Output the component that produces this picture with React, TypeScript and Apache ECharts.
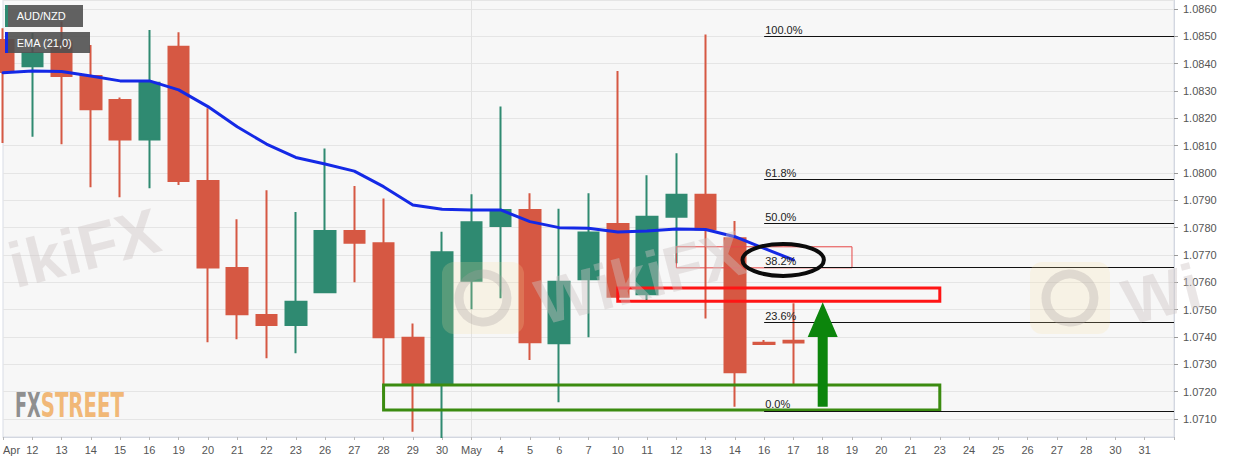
import React, { useEffect, useRef } from "react";
import * as echarts from "echarts";

const dates = [
  "2021-04-09", "2021-04-12", "2021-04-13", "2021-04-14", "2021-04-15", "2021-04-16",
  "2021-04-19", "2021-04-20", "2021-04-21", "2021-04-22", "2021-04-23",
  "2021-04-26", "2021-04-27", "2021-04-28", "2021-04-29", "2021-04-30",
  "2021-05-03", "2021-05-04", "2021-05-05", "2021-05-06", "2021-05-07",
  "2021-05-10", "2021-05-11", "2021-05-12", "2021-05-13", "2021-05-14",
  "2021-05-16", "2021-05-17", "2021-05-18", "2021-05-19", "2021-05-20", "2021-05-21",
  "2021-05-23", "2021-05-24", "2021-05-25", "2021-05-26", "2021-05-27", "2021-05-28",
  "2021-05-30", "2021-05-31", "2021-06-01",
];
const tickLabels = [
  "Apr", "12", "13", "14", "15", "16", "19", "20", "21", "22", "23", "26", "27", "28", "29", "30",
  "May", "4", "5", "6", "7", "10", "11", "12", "13", "14", "16", "17", "18", "19", "20", "21",
  "23", "24", "25", "26", "27", "28", "30", "31", "",
];

// OHLC per trading day (AUD/NZD daily)
const opens = [
  1.08487, 1.08391, 1.08479, 1.08355, 1.08267, 1.08123, 1.08462, 1.07971, 1.07652, 1.0748,
  1.07444, 1.07564, 1.07788, 1.07743, 1.07397, 1.07228, 1.07606, 1.07806, 1.07865, 1.07377,
  1.07611, 1.07813, 1.07556, 1.0784, 1.0792, 1.07761, 1.07379, 1.07386,
];
const closes = [
  1.0837, 1.08438, 1.08355, 1.08233, 1.08123, 1.0833, 1.07971, 1.07654, 1.07483, 1.07444,
  1.07529, 1.07788, 1.07745, 1.07399, 1.07228, 1.0771, 1.0782, 1.07865, 1.07381, 1.07602,
  1.07782, 1.07547, 1.0784, 1.0792, 1.07794, 1.07271, 1.07374, 1.0738,
];
const lows = [
  1.0811, 1.08133, 1.08105, 1.07948, 1.07911, 1.07944, 1.07956, 1.07381, 1.07392, 1.07322,
  1.0734, 1.07562, 1.076, 1.0719, 1.07053, 1.0703, 1.07501, 1.07542, 1.07316, 1.07161,
  1.07399, 1.0754, 1.07529, 1.0767, 1.07468, 1.07145, 1.07373, 1.07228,
];
const highs = [
  1.0853, 1.08512, 1.08554, 1.08468, 1.08276, 1.08523, 1.08515, 1.08237, 1.07831, 1.07937,
  1.07857, 1.0809, 1.07952, 1.07907, 1.07449, 1.07785, 1.07922, 1.08243, 1.07926, 1.07869,
  1.07926, 1.08373, 1.07992, 1.08072, 1.08507, 1.07824, 1.07389, 1.07523,
];
const emaValues = [
  1.08367, 1.08373, 1.08371, 1.08355, 1.08337, 1.08337, 1.08304, 1.08243, 1.08169, 1.08106,
  1.08057, 1.08033, 1.08007, 1.0795, 1.07883, 1.07867, 1.07865, 1.07865, 1.07822, 1.078,
  1.07798, 1.07784, 1.07788, 1.07795, 1.07793, 1.07767, 1.07724, 1.07682,
];

const lastPrice = 1.0738;
const fibHigh = 1.085;
const fibLow = 1.0713;
const fibRatios = [1, 0.618, 0.5, 0.382, 0.236, 0];
const fibLabels = ["100.0%", "61.8%", "50.0%", "38.2%", "23.6%", "0.0%"];
const fibStart = "2021-05-16";
const monthStart = "2021-05-03";

// annotation zones (drawn boxes)
const zoneStarts = ["2021-05-12", "2021-05-10", "2021-04-28"];
const zoneEnds = ["2021-05-19", "2021-05-23", "2021-05-23"];
const zoneTops = [1.0773, 1.07579, 1.07224];
const zoneBottoms = [1.07653, 1.07531, 1.07133];

// ellipse around the 38.2% / EMA meeting point
const ellipseDay = "2021-05-16";
const ellipseDayOffset = 0.65;
const ellipseCenter = 1.07682;
const ellipseHalfDays = 1.39;
const ellipseHalfPrice = 0.000585;

// up arrow
const arrowDay = "2021-05-18";
const arrowBase = 1.07145;
const arrowHeadBase = 1.074;
const arrowTip = 1.07527;

const yMin = 1.07034;
const yMax = 1.08633;

const UP = "#2f8a71";
const DOWN = "#d65843";
const zoneStyles = [
  { stroke: "#e64646", lineWidth: 1 },
  { stroke: "#ff1414", lineWidth: 3 },
  { stroke: "#3b8b10", lineWidth: 3 },
];

function measure(text: string, font: string) {
  const c = document.createElement("canvas").getContext("2d");
  if (!c) return 100;
  c.font = font;
  return c.measureText(text).width || 100;
}

const WM_FILL = "rgba(205,196,196,0.42)";
const WM_FONT = "bold 64px Arial, 'Liberation Sans', sans-serif";

export default function App() {
  const ref = useRef<HTMLDivElement>(null);
  useEffect(() => {
    if (!ref.current) return;
    const chart = echarts.init(ref.current, null, { renderer: "svg" });

    const candleData = opens.map((o, i) => [o, closes[i], lows[i], highs[i]]);
    const fibLevels = fibRatios.map((r) => fibLow + r * (fibHigh - fibLow));
    const lastIdx = dates.length - 1;

    const fxFont = "bold 34px 'Liberation Sans Narrow', 'DejaVu Sans Condensed', sans-serif";
    const fxScale = 25.7 / measure("FX", fxFont);
    const streetScale = 83.3 / measure("STREET", fxFont);

    const fibMarkLines = fibLevels.map((lv, i) => [
      {
        coord: [fibStart, lv],
        label: {
          show: true,
          formatter: fibLabels[i],
          position: "insideStartTop",
          distance: [1, 1],
          color: "#222",
          fontSize: 11,
          fontFamily: "Arial, 'Liberation Sans', sans-serif",
        },
        lineStyle: { color: "#111", width: 1, type: "solid" },
      },
      { coord: [dates[lastIdx], lv] },
    ]);

    const option: any = {
      animation: false,
      backgroundColor: "#ffffff",
      grid: {
        left: 0.7,
        right: 72,
        top: 0,
        bottom: 26,
        show: true,
        backgroundColor: "#f7f7f7",
        borderColor: "#d9dde6",
        borderWidth: 1,
      },
      xAxis: {
        type: "category",
        data: dates,
        boundaryGap: false,
        axisLine: { show: true, lineStyle: { color: "#d3d7e0", width: 1 } },
        axisTick: { show: true, length: 3, lineStyle: { color: "#b8b8b8" } },
        axisLabel: {
          interval: 0,
          color: "#555",
          fontSize: 11,
          fontFamily: "Arial, 'Liberation Sans', sans-serif",
          margin: 7,
          alignMinLabel: "left",
          formatter: (_v: string, i: number) => tickLabels[i],
        },
        splitLine: {
          show: true,
          interval: (i: number) => dates[i] === monthStart,
          lineStyle: { color: "#e2e2e2", width: 1 },
        },
      },
      yAxis: {
        type: "value",
        position: "right",
        min: yMin,
        max: yMax,
        splitNumber: 16,
        scale: true,
        axisLine: { show: true, lineStyle: { color: "#d3d7e0" } },
        axisTick: { show: true, length: 4, lineStyle: { color: "#999" } },
        axisLabel: {
          color: "#555",
          fontSize: 11,
          fontFamily: "Arial, 'Liberation Sans', sans-serif",
          margin: 9,
          showMinLabel: false,
          showMaxLabel: false,
          formatter: (v: number) => v.toFixed(4),
        },
        splitLine: { show: true, lineStyle: { color: "#e5e5e5", width: 1 } },
      },
      series: [
        {
          type: "candlestick",
          data: candleData,
          barWidth: 21,
          z: 2,
          itemStyle: {
            color: UP,
            color0: DOWN,
            borderColor: UP,
            borderColor0: DOWN,
            borderWidth: 2,
          },
          markLine: {
            silent: true,
            symbol: "none",
            animation: false,
            data: [
              ...fibMarkLines,
              {
                yAxis: lastPrice,
                lineStyle: { color: "#2c4a70", width: 1, type: "solid" },
                label: {
                  show: true,
                  position: "end",
                  distance: 3,
                  formatter: lastPrice.toFixed(6),
                  color: "#fff",
                  fontWeight: "bold",
                  fontSize: 11,
                  fontFamily: "Arial, 'Liberation Sans', sans-serif",
                  backgroundColor: "#2c4a70",
                  padding: [2, 3, 1, 3],
                  borderRadius: 2,
                },
              },
            ],
          },
        },
        {
          type: "line",
          data: emaValues,
          showSymbol: false,
          symbol: "none",
          z: 3,
          lineStyle: { color: "#1429e6", width: 3, cap: "round", join: "round" },
        },
        {
          type: "custom",
          z: 4,
          data: zoneStarts.map((d, i) => [
            dates.indexOf(d),
            dates.indexOf(zoneEnds[i]),
            zoneTops[i],
            zoneBottoms[i],
          ]),
          renderItem: (params: any, api: any) => {
            const i = params.dataIndex;
            const p0 = api.coord([api.value(0), api.value(2)]);
            const p1 = api.coord([api.value(1), api.value(3)]);
            return {
              type: "rect",
              shape: { x: p0[0], y: p0[1], width: p1[0] - p0[0], height: p1[1] - p0[1] },
              style: { fill: "none", ...zoneStyles[i] },
            };
          },
        },
        {
          type: "custom",
          z: 5,
          data: [[dates.indexOf(ellipseDay), ellipseCenter]],
          renderItem: (_params: any, api: any) => {
            const c = api.coord([api.value(0), api.value(1)]);
            const bw = api.size([1, 0])[0];
            const ry = api.size([0, ellipseHalfPrice])[1];
            return {
              type: "ellipse",
              shape: { cx: c[0] + ellipseDayOffset * bw, cy: c[1], rx: ellipseHalfDays * bw, ry },
              style: { fill: "none", stroke: "#0b0b0b", lineWidth: 4 },
            };
          },
        },
        {
          type: "custom",
          z: 5,
          data: [[dates.indexOf(arrowDay), arrowBase, arrowHeadBase, arrowTip]],
          renderItem: (_params: any, api: any) => {
            const b = api.coord([api.value(0), api.value(1)]);
            const h = api.coord([api.value(0), api.value(2)]);
            const t = api.coord([api.value(0), api.value(3)]);
            const x = b[0];
            return {
              type: "polygon",
              shape: {
                points: [
                  [x - 5, b[1]],
                  [x - 5, h[1]],
                  [x - 15, h[1]],
                  [x, t[1]],
                  [x + 15, h[1]],
                  [x + 5, h[1]],
                  [x + 5, b[1]],
                ],
              },
              style: { fill: "#0c850c" },
            };
          },
        },
      ],
      graphic: [
        // faint watermarks
        {
          type: "text",
          x: 18,
          y: 298,
          rotation: 0.25,
          z: 50,
          silent: true,
          style: { text: "ikiFX", fill: WM_FILL, font: WM_FONT, verticalAlign: "bottom" },
        },
        {
          type: "rect",
          x: 442,
          y: 262,
          z: 50,
          silent: true,
          shape: { width: 82, height: 72, r: 12 },
          style: { fill: "rgba(250,225,160,0.2)" },
        },
        {
          type: "circle",
          x: 483,
          y: 298,
          z: 50,
          silent: true,
          shape: { r: 24 },
          style: { fill: "none", stroke: "rgba(170,160,160,0.3)", lineWidth: 9 },
        },
        {
          type: "text",
          x: 545,
          y: 335,
          rotation: 0.25,
          z: 50,
          silent: true,
          style: { text: "WikiFX", fill: WM_FILL, font: WM_FONT, verticalAlign: "bottom" },
        },
        {
          type: "rect",
          x: 1030,
          y: 262,
          z: 50,
          silent: true,
          shape: { width: 80, height: 72, r: 12 },
          style: { fill: "rgba(250,225,160,0.2)" },
        },
        {
          type: "circle",
          x: 1070,
          y: 298,
          z: 50,
          silent: true,
          shape: { r: 24 },
          style: { fill: "none", stroke: "rgba(170,160,160,0.3)", lineWidth: 9 },
        },
        {
          type: "text",
          x: 1132,
          y: 335,
          rotation: 0.25,
          z: 50,
          silent: true,
          style: { text: "Wi", fill: WM_FILL, font: WM_FONT, verticalAlign: "bottom" },
        },
        // FXSTREET logo
        {
          type: "text",
          x: 15,
          y: 405,
          scaleX: fxScale,
          z: 50,
          silent: true,
          style: { text: "FX", fill: "#8f8f8f", font: fxFont, verticalAlign: "middle" },
        },
        {
          type: "text",
          x: 40.7,
          y: 405,
          scaleX: streetScale,
          z: 50,
          silent: true,
          style: { text: "STREET", fill: "#f1b877", font: fxFont, verticalAlign: "middle" },
        },
        // legend boxes
        {
          type: "rect",
          z: 100,
          shape: { x: 5, y: 5, width: 78, height: 22 },
          style: { fill: "rgba(80,80,80,0.9)" },
        },
        { type: "rect", z: 101, shape: { x: 5, y: 5, width: 3, height: 22 }, style: { fill: UP } },
        {
          type: "text",
          z: 102,
          x: 16.7,
          y: 16,
          style: {
            text: "AUD/NZD",
            fill: "#fff",
            font: "11px Arial, 'Liberation Sans', sans-serif",
            verticalAlign: "middle",
          },
        },
        {
          type: "rect",
          z: 100,
          shape: { x: 5, y: 32, width: 85, height: 21 },
          style: { fill: "rgba(80,80,80,0.9)" },
        },
        { type: "rect", z: 101, shape: { x: 5, y: 32, width: 3, height: 21 }, style: { fill: "#1429e6" } },
        {
          type: "text",
          z: 102,
          x: 16.7,
          y: 42.5,
          style: {
            text: "EMA (21,0)",
            fill: "#fff",
            font: "11px Arial, 'Liberation Sans', sans-serif",
            verticalAlign: "middle",
          },
        },
      ],
    };

    chart.setOption(option);
    return () => chart.dispose();
  }, []);

  return (
    <div
      ref={ref}
      style={{ position: "fixed", left: 0, top: 0, width: 1246, height: 463, background: "#fff" }}
    />
  );
}
